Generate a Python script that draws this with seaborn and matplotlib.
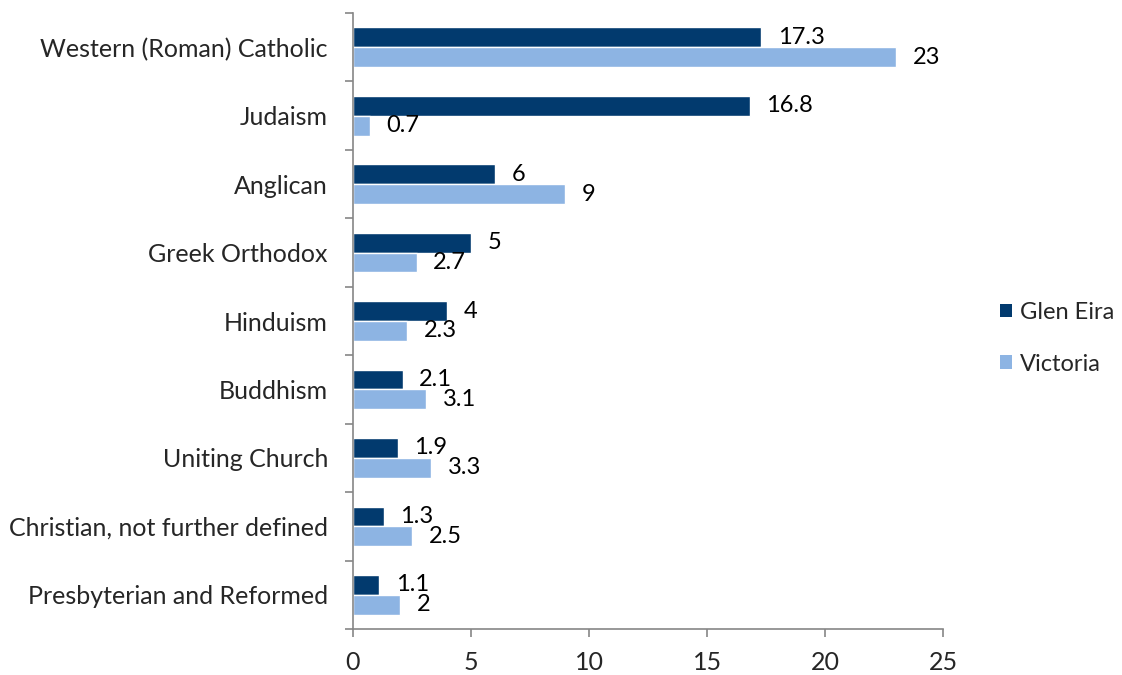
import matplotlib
matplotlib.use("Agg")
import matplotlib.pyplot as plt
import seaborn as sns
import pandas as pd
from matplotlib.patches import Patch
from matplotlib.ticker import FixedLocator

categories = [
    "Western (Roman) Catholic",
    "Judaism",
    "Anglican",
    "Greek Orthodox",
    "Hinduism",
    "Buddhism",
    "Uniting Church",
    "Christian, not further defined",
    "Presbyterian and Reformed",
]
glen_eira = [17.3, 16.8, 6, 5, 4, 2.1, 1.9, 1.3, 1.1]
victoria = [23, 0.7, 9, 2.7, 2.3, 3.1, 3.3, 2.5, 2]
series_names = ["Glen Eira", "Victoria"]
colors = ["#023a6e", "#8db4e3"]
x_ticks = [0, 5, 10, 15, 20, 25]

df = pd.DataFrame({
    "Religion": categories * 2,
    "Percent": glen_eira + victoria,
    "Area": [series_names[0]] * len(categories) + [series_names[1]] * len(categories),
})

sns.set_style("white")
plt.rcParams["font.family"] = ["Lato", "DejaVu Sans"]
FS = 18

fig = plt.figure(figsize=(11.22, 6.75), dpi=100)
ax = fig.add_axes([0.3146, 0.0681, 0.8405 - 0.3146, 0.9807 - 0.0681])

sns.barplot(data=df, y="Religion", x="Percent", hue="Area", orient="h",
            palette=colors, width=0.58, gap=0, saturation=1, legend=False,
            order=categories, hue_order=series_names, ax=ax)

for cont in ax.containers:
    labels = [f"{v:g}" for v in cont.datavalues]
    ax.bar_label(cont, labels=labels, padding=12, fontsize=17, color="black")

ax.set_xlim(0, 25)
ax.set_ylim(len(categories) - 0.5, -0.5)
ax.set_xticks(x_ticks)
ax.set_xticklabels([str(t) for t in x_ticks], fontsize=FS)
ax.tick_params(axis="y", which="major", length=0, labelsize=FS, pad=18)
ax.yaxis.set_minor_locator(FixedLocator([i - 0.5 for i in range(len(categories) + 1)]))
ax.tick_params(axis="y", which="minor", left=True, length=6, color="#868686",
               width=1.2, direction="out")
ax.tick_params(axis="x", which="major", bottom=True, length=6, color="#868686",
               width=1.2, direction="out", pad=10)
ax.set_xlabel("")
ax.set_ylabel("")

for side in ["top", "right"]:
    ax.spines[side].set_visible(False)
for side in ["left", "bottom"]:
    ax.spines[side].set_color("#868686")
    ax.spines[side].set_linewidth(1.2)

handles = [Patch(facecolor=c, edgecolor="none") for c in colors]
fig.legend(handles, series_names, loc="center left", bbox_to_anchor=(0.891, 0.499),
           frameon=False, fontsize=17, handlelength=0.5, handleheight=0.5,
           handletextpad=0.35, labelspacing=1.3, borderpad=0, borderaxespad=0)

fig.savefig("out.png", dpi=100)
